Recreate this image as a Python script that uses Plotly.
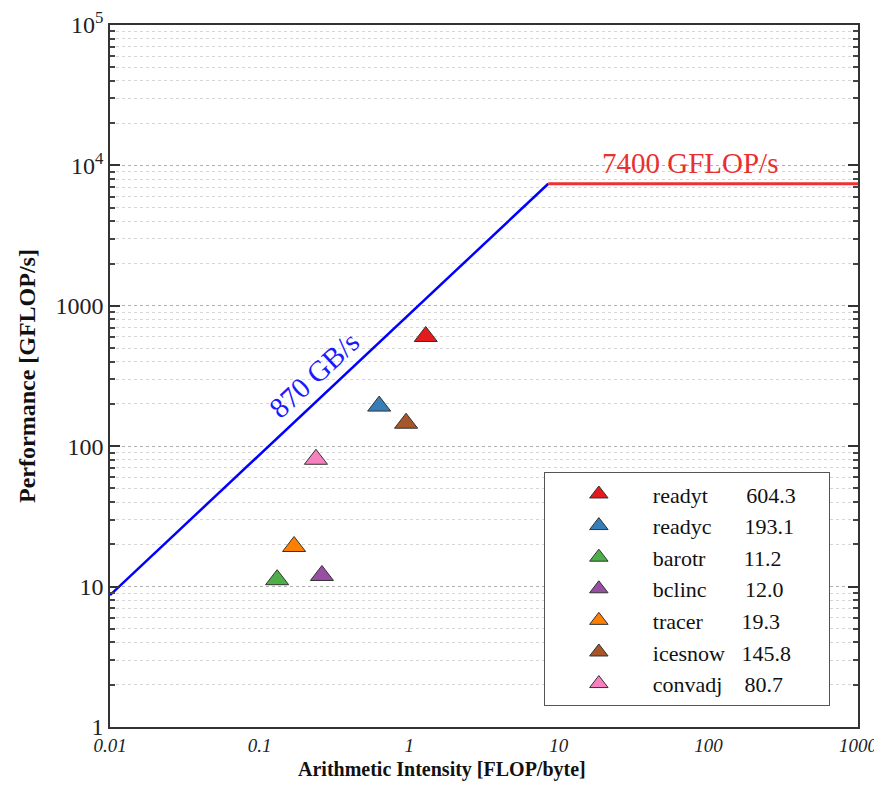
import math
import plotly.graph_objects as go

# ---- data ----
kernels = ["readyt", "readyc", "barotr", "bclinc", "tracer", "icesnow", "convadj"]
intensity = [1.29, 0.63, 0.131, 0.261, 0.170, 0.953, 0.238]      # FLOP/byte
performance = [604.3, 193.1, 11.2, 12.0, 19.3, 145.8, 80.7]      # GFLOP/s
label_gaps = [7, 6, 7, 7, 7, 3, 4]
colors = ["#e41a1c", "#377eb8", "#4daf4a", "#984ea3", "#ff7f00", "#a65628", "#f781bf"]

bandwidth = 870.0   # GB/s
peak = 7400.0       # GFLOP/s
ai_min, ai_max = 0.01, 1000.0

y_tickvals = [1, 10, 100, 1000, 1e4, 1e5]
y_ticktext = ["1", "10", "100", "1000", "10<sup>4</sup>", "10<sup>5</sup>"]
x_tickvals = [0.01, 0.1, 1, 10, 100, 1000]
x_ticktext = ["0.01", "0.1", "1", "10", "100", "1000"]

SERIF = "Liberation Serif, Times New Roman, serif"
ridge = peak / bandwidth

fig = go.Figure()

# memory roof
fig.add_trace(go.Scatter(x=[ai_min, ridge], y=[ai_min * bandwidth, peak], mode="lines",
                         line=dict(color="#0000ff", width=2.5), showlegend=False, hoverinfo="skip"))
# compute roof
fig.add_trace(go.Scatter(x=[ridge, ai_max], y=[peak, peak], mode="lines",
                         line=dict(color="#ee3030", width=3), showlegend=False, hoverinfo="skip"))

for k, a, p, g, c in zip(kernels, intensity, performance, label_gaps, colors):
    fig.add_trace(go.Scatter(
        x=[a], y=[p], mode="markers",
        name=k + "\u00a0" * g + f"{p:.1f}" + "\u00a0" * 5,
        marker=dict(symbol="triangle-up", size=20, color=c,
                    line=dict(color="#333333", width=1)),
    ))

# roof labels (annotation positions on log axes are given in log10 units)
fig.add_annotation(x=math.log10(0.231), y=math.log10(321), xref="x", yref="y",
                   text="870 GB/s", showarrow=False, textangle=-43,
                   font=dict(family=SERIF, size=29, color="#1a1aff"),
                   xanchor="center", yanchor="middle")
fig.add_annotation(x=math.log10(75.3), y=math.log10(10400), xref="x", yref="y",
                   text="7400 GFLOP/s", showarrow=False,
                   font=dict(family=SERIF, size=29, color="#e83030"),
                   xanchor="center", yanchor="middle")

# axis titles
fig.add_annotation(x=0.444, y=-0.060, xref="paper", yref="paper", yanchor="middle",
                   text="<b>Arithmetic Intensity [FLOP/byte]</b>", showarrow=False,
                   font=dict(family=SERIF, size=20, color="#111"))
fig.add_annotation(x=-0.111, y=0.5, xref="paper", yref="paper", xanchor="center",
                   text="<b>Performance [GFLOP/s]</b>", showarrow=False, textangle=-90,
                   font=dict(family=SERIF, size=24, color="#111"))

minor_y = [m * 10 ** e for e in range(5) for m in range(2, 10)]

# page body has an 8px default margin, so the figure is sized to fit the window
fig.update_layout(
    width=874, height=782,
    margin=dict(l=102, r=24, t=17, b=63),
    paper_bgcolor="white", plot_bgcolor="white",
    font=dict(family=SERIF, color="#111"),
    legend=dict(x=0.58, y=0.363, xanchor="left", yanchor="top",
                bgcolor="white", bordercolor="#555", borderwidth=1,
                font=dict(family=SERIF, size=22, color="#111"),
                itemwidth=98),
    xaxis=dict(type="log", range=[-2, 3], tickmode="array", tickvals=x_tickvals,
               ticktext=x_ticktext, showgrid=False, zeroline=False, automargin=False,
               showline=True, linecolor="#333", linewidth=1.5, mirror=True,
               ticks="", tickfont=dict(family=SERIF, size=19, style="italic", color="#222")),
    yaxis=dict(type="log", range=[0, 5], tickmode="array", tickvals=y_tickvals,
               ticktext=y_ticktext, showgrid=True, gridcolor="#b0b0b0", griddash="dot",
               gridwidth=1, zeroline=False, automargin=False,
               showline=True, linecolor="#333", linewidth=1.5, mirror="ticks",
               ticks="inside", ticklen=10, tickcolor="#333", tickwidth=1.5,
               tickfont=dict(family=SERIF, size=24, color="#222"),
               minor=dict(tickmode="array", tickvals=minor_y, ticks="inside", ticklen=5,
                          tickcolor="#444", showgrid=True, gridcolor="#d6d6d6",
                          griddash="dot", gridwidth=1)),
)

fig.write_html("out.html")
